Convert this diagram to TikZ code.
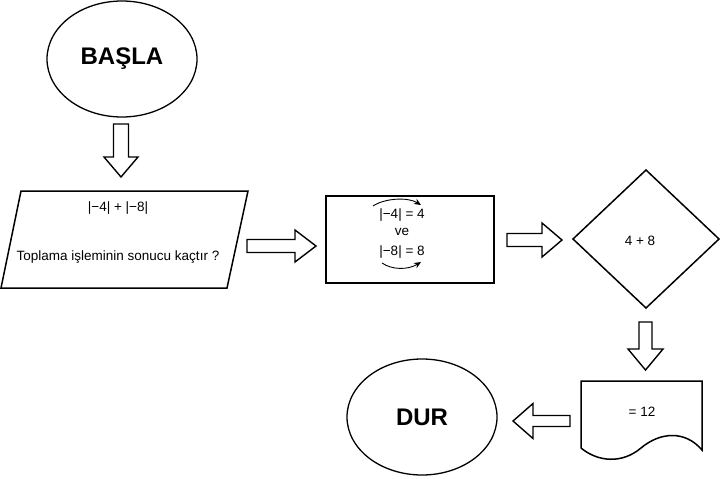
\documentclass[tikz,border=0pt]{standalone}
\usepackage{fontspec}
\setmainfont{Liberation Sans}
\usetikzlibrary{shapes.geometric,arrows.meta}
\begin{document}
\begin{tikzpicture}[x=1pt,y=-1pt,
  shapeline/.style={draw=black,line width=1.5pt,line join=miter},
  blockline/.style={draw=black,line width=1.4pt,fill=white,line join=miter},
  txt/.style={font=\fontsize{13.5}{16}\selectfont,text=black,inner sep=0pt},
  bigtxt/.style={font=\fontsize{24}{28}\selectfont\bfseries,text=black},
  curvearrow/.style={draw=black,line width=0.9pt,-{Stealth[length=7pt,width=6pt]}},
  pics/barrow/.style args={#1/#2/#3/#4}{code={\draw[blockline] (0,-#2) -- ({#1-#4},-#2) -- ({#1-#4},-#3) -- (#1,0) -- ({#1-#4},#3) -- ({#1-#4},#2) -- (0,#2) -- cycle;}}
]
\useasboundingbox (0,0) rectangle (720,479);

% Start
\node[ellipse,shapeline,line width=1.3pt,minimum width=150pt,minimum height=116pt,inner sep=0pt,bigtxt] (start) at (122,59) {BAŞLA};

% Input parallelogram
\coordinate (p1) at (21,191);
\coordinate (p2) at (248,191);
\coordinate (p3) at (227,288);
\coordinate (p4) at (1,288);
\draw[shapeline] (p1)--(p2)--(p3)--(p4)--cycle;
\node[txt] (q1) at (118,208) {|−4| + |−8|};
\node[txt] (q2) at (118,257) {Toplama işleminin sonucu kaçtır ?};

% Process rectangle
\node[shapeline,minimum width=168pt,minimum height=87pt,inner sep=0pt] (calc) at (410,239.5) {};
\node[txt] (r1) at (402,215) {|−4| = 4};
\node[txt] (r2) at (402,232) {ve};
\node[txt] (r3) at (402,252) {|−8| = 8};
\coordinate (c1s) at (373,206);
\coordinate (c1e) at (421,205);
\draw[curvearrow] (c1s) .. controls (385,198) and (408,197) .. (c1e);
\coordinate (c2s) at (382,263);
\coordinate (c2e) at (421,262);
\draw[curvearrow] (c2s) .. controls (392,270) and (408,270) .. (c2e);

% Decision diamond
\coordinate (d1) at (573,239);
\coordinate (d2) at (646,170);
\coordinate (d3) at (719,239);
\coordinate (d4) at (646,308);
\draw[shapeline] (d1)--(d2)--(d3)--(d4)--cycle;
\node[txt] (sum) at (640,241) {4 + 8};

% Document
\coordinate (k1) at (581,381);
\coordinate (k2) at (702,381);
\coordinate (k3) at (702,450);
\coordinate (k4) at (581,448);
\draw[shapeline] (k4)--(k1)--(k2)--(k3) .. controls (685,430) and (660,432) .. (641,448) .. controls (622,464) and (598,462) .. (k4);
\node[txt] (res) at (642,412) {= 12};

% End
\node[ellipse,shapeline,line width=1.3pt,minimum width=150pt,minimum height=116pt,inner sep=0pt,bigtxt] (end) at (422,417) {DUR};

% Block arrows
\pic[rotate=-90] at (121,124) {barrow=53/7.5/17/20};
\pic at (247,246) {barrow=69/6.5/16/21};
\pic at (507,240) {barrow=55/6.5/17/20};
\pic[rotate=-90] at (645.5,322) {barrow=48/6.5/17.5/21};
\pic[rotate=180] at (570,421) {barrow=57/5.5/17.5/20};
\end{tikzpicture}
\end{document}
